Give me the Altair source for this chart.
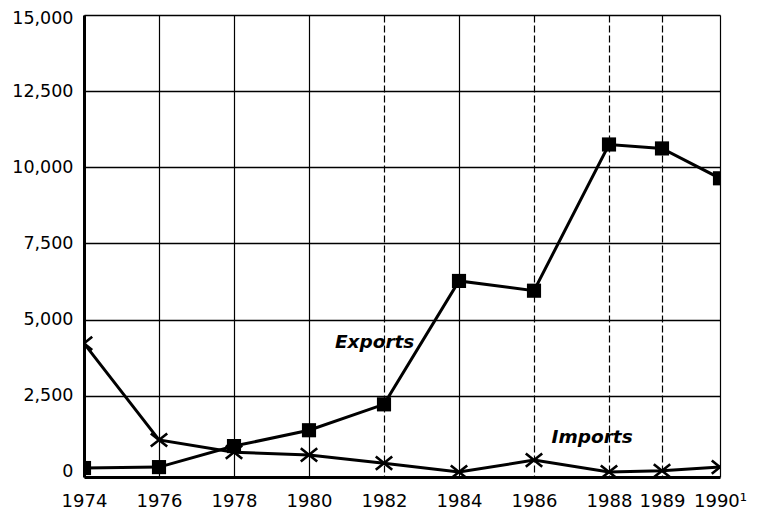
import altair as alt
import pandas as pd

years = [1974, 1976, 1978, 1980, 1982, 1984, 1986, 1988, 1989, 1990]
exports = [130, 160, 850, 1370, 2220, 6270, 5950, 10750, 10620, 9640]
imports = [4220, 1050, 650, 560, 290, 0, 390, 0, 40, 160]

label_text = ["Exports", "Imports"]
label_year = [1981.75, 1987.55]
label_value = [4250, 1140]

y_ticks = [0, 2500, 5000, 7500, 10000, 12500, 15000]

df_exp = pd.DataFrame({"year": years, "value": exports})
df_imp = pd.DataFrame({"year": years, "value": imports})
df_lab = pd.DataFrame({"text": label_text, "year": label_year, "value": label_value})

FONT = "DejaVu Sans"

x_scale = alt.Scale(domain=[1974, 1988, 1989, 1990], range=[0, 525, 578, 636], nice=False, zero=False)
y_scale = alt.Scale(domain=[-165, 15000], nice=False, zero=False)

x_axis = alt.Axis(
    values=years, title=None, ticks=False, labelPadding=15,
    labelExpr="datum.value == 1990 ? '1990\u00b9' : toString(datum.value)",
    labelFont=FONT, labelFontSize=18, labelColor="black",
    grid=True, gridColor="black", gridWidth=1.2, gridOpacity=1,
    gridDash={"condition": {"test": "indexof([1982, 1986, 1988, 1989], datum.value) >= 0", "value": [7, 3]}, "value": []},
    domain=True, domainColor="black", domainWidth=3, labelFlush=False, labelBound=False,
)
y_axis = alt.Axis(
    values=y_ticks, format=",d", title=None, ticks=False, labelPadding=11,
    labelFont=FONT, labelFontSize=17.5, labelColor="black",
    labelOffset={"condition": {"test": "datum.value == 15000", "value": 3}, "value": 0},
    grid=True, gridColor="black", gridWidth=1.5,
    gridOpacity={"condition": {"test": "datum.value == 0", "value": 0}, "value": 1},
    domain=True, domainColor="black", domainWidth=3, labelFlush=False,
)

X = alt.X("year:Q", scale=x_scale, axis=x_axis)
Y = alt.Y("value:Q", scale=y_scale, axis=y_axis)

exp_line = alt.Chart(df_exp).mark_line(color="black", strokeWidth=3, clip=True).encode(x=X, y=Y)
exp_pts = alt.Chart(df_exp).mark_point(shape="square", filled=True, color="black", size=200, opacity=1, clip=True).encode(x=X, y=Y)
imp_line = alt.Chart(df_imp).mark_line(color="black", strokeWidth=3, clip=True).encode(x=X, y=Y)
imp_pts = alt.Chart(df_imp).mark_point(
    shape="M-1,-0.8L1,0.8M-1,0.8L1,-0.8", filled=False, color="black", strokeWidth=2.6, size=270, opacity=1, clip=True
).encode(x=X, y=Y)
labels = alt.Chart(df_lab).mark_text(
    font=FONT, fontSize=18.5, fontWeight="bold", fontStyle="italic", color="black", align="center", baseline="middle"
).encode(x=X, y=Y, text="text:N")

chart = alt.layer(exp_line, imp_line, exp_pts, imp_pts, labels).properties(
    width=636, height=462,
    autosize=alt.AutoSizeParams(type="none"),
    padding={"left": 76, "top": 7, "right": 29, "bottom": 34},
).configure_view(stroke="black", strokeWidth=2.5).configure(background="white")

chart.save("out.html", embed_options={"renderer": "svg", "actions": False})
